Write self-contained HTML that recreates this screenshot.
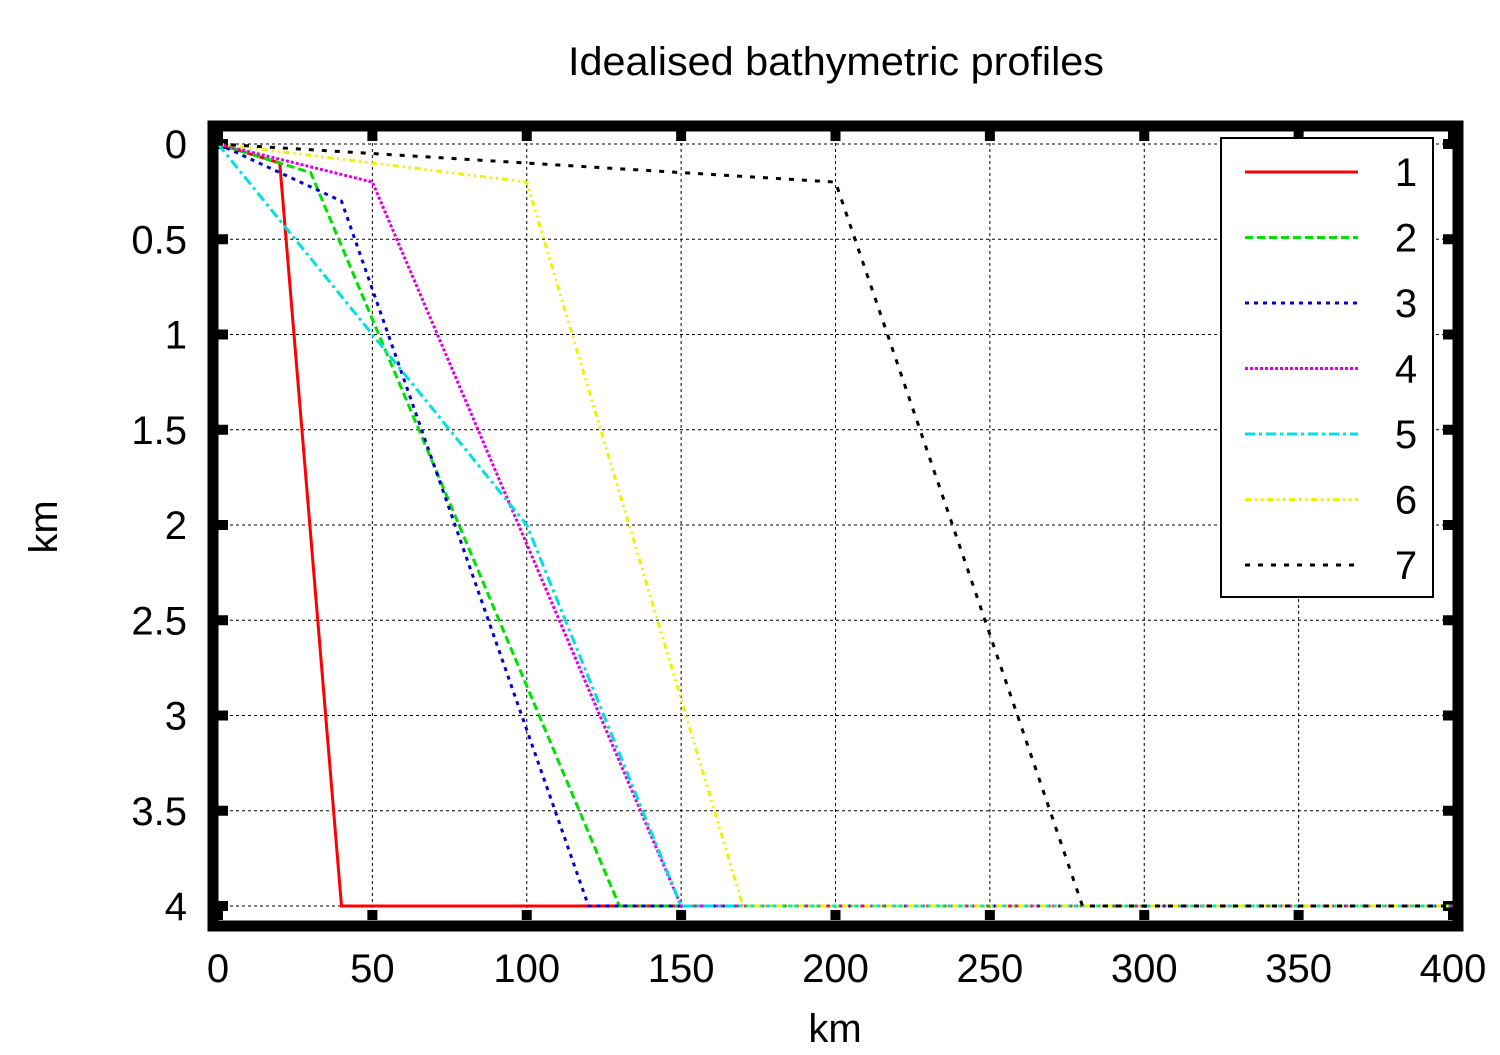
<!DOCTYPE html>
<html><head><meta charset="utf-8"><style>
body{margin:0;background:#fff}
svg text{font-family:"Liberation Sans",sans-serif;fill:#000}
</style></head><body>
<svg id="chart" width="1500" height="1050" xmlns="http://www.w3.org/2000/svg">
<text x="836" y="75" font-size="40" text-anchor="middle" textLength="536" lengthAdjust="spacingAndGlyphs">Idealised bathymetric profiles</text>
<text x="835" y="1042" font-size="40" text-anchor="middle">km</text>
<text transform="translate(57,527) rotate(-90)" font-size="40" text-anchor="middle">km</text>
<g id="grid"></g>
<g id="ticks"></g>
<g id="series"></g>
<rect x="213" y="126" width="1245" height="800" fill="none" stroke="#000" stroke-width="11"/>
<g id="legend"></g>
</svg>
<script>
const xTicks=[0,50,100,150,200,250,300,350,400];
const yTicks=[0,0.5,1,1.5,2,2.5,3,3.5,4];
const yTickLabels=["0","0.5","1","1.5","2","2.5","3","3.5","4"];
const seriesNames=["1","2","3","4","5","6","7"];
const s1x=[0,20,40,400], s1y=[0,0.1,4,4];
const s2x=[0,30,130,400], s2y=[0,0.15,4,4];
const s3x=[0,40,120,400], s3y=[0,0.3,4,4];
const s4x=[0,50,150,400], s4y=[0,0.2,4,4];
const s5x=[0,100,150,400], s5y=[0,2,4,4];
const s6x=[0,100,170,400], s6y=[0,0.2,4,4];
const s7x=[0,200,280,400], s7y=[0,0.2,4,4];
const colors=["#ff0000","#00e000","#0000d0","#e000e0","#00e0e0","#f0f000","#000000"];
const dashes=["","8,4","4,5","3,2","10,4,3,4","6,4,2,4,2,4","5,8"];
const allX=[s1x,s2x,s3x,s4x,s5x,s6x,s7x], allY=[s1y,s2y,s3y,s4y,s5y,s6y,s7y];
const X=v=>218+v*(1453-218)/400, Y=v=>144+v*(906-144)/4;
const NS="http://www.w3.org/2000/svg";
function mk(t,a,p){const e=document.createElementNS(NS,t);for(const k in a)e.setAttribute(k,a[k]);p.appendChild(e);return e;}
const grid=document.getElementById('grid'),ticks=document.getElementById('ticks');
xTicks.forEach((v,i)=>{
 if(i>0&&i<xTicks.length-1){const l=mk('line',{x1:X(v),x2:X(v),y1:131,y2:920,stroke:'#000','stroke-width':1,'stroke-dasharray':'3,3'},grid);
 }
 const t=mk('text',{x:X(v),y:982,'font-size':40,'text-anchor':'middle'},ticks);t.textContent=v;
 
 mk('rect',{x:X(v)-5,y:131,width:10,height:10,fill:'#000'},ticks);
 mk('rect',{x:X(v)-5,y:910,width:10,height:10,fill:'#000'},ticks);
});
yTicks.forEach((v,i)=>{
 const l=mk('line',{x1:218,x2:1453,y1:Y(v),y2:Y(v),stroke:'#000','stroke-width':1,'stroke-dasharray':'3,3'},grid);
 
 const t=mk('text',{x:187,y:Y(v)+14,'font-size':40,'text-anchor':'end'},ticks);t.textContent=yTickLabels[i];
 
 mk('rect',{x:218,y:Y(v)-5,width:10,height:10,fill:'#000'},ticks);
 mk('rect',{x:1443,y:Y(v)-5,width:10,height:10,fill:'#000'},ticks);
});
const sg=document.getElementById('series'),lg=document.getElementById('legend');
const box=mk('rect',{x:1221,y:138,width:212,height:459,fill:'#fff',stroke:'#000','stroke-width':2},lg);

allX.forEach((xs,i)=>{
 const pts=xs.map((x,j)=>X(x)+','+Y(allY[i][j])).join(' ');
 const p=mk('polyline',{points:pts,fill:'none',stroke:colors[i],'stroke-width':3,'stroke-dasharray':dashes[i]},sg);
 
 const ly=172+i*65.5;
 const ll=mk('line',{x1:1245,x2:1358,y1:ly,y2:ly,stroke:colors[i],'stroke-width':3,'stroke-dasharray':dashes[i]},lg);
 
 const lt=mk('text',{x:1406,y:ly+14,'font-size':40,'text-anchor':'middle'},lg);lt.textContent=seriesNames[i];
 
});
</script>
</body></html>
